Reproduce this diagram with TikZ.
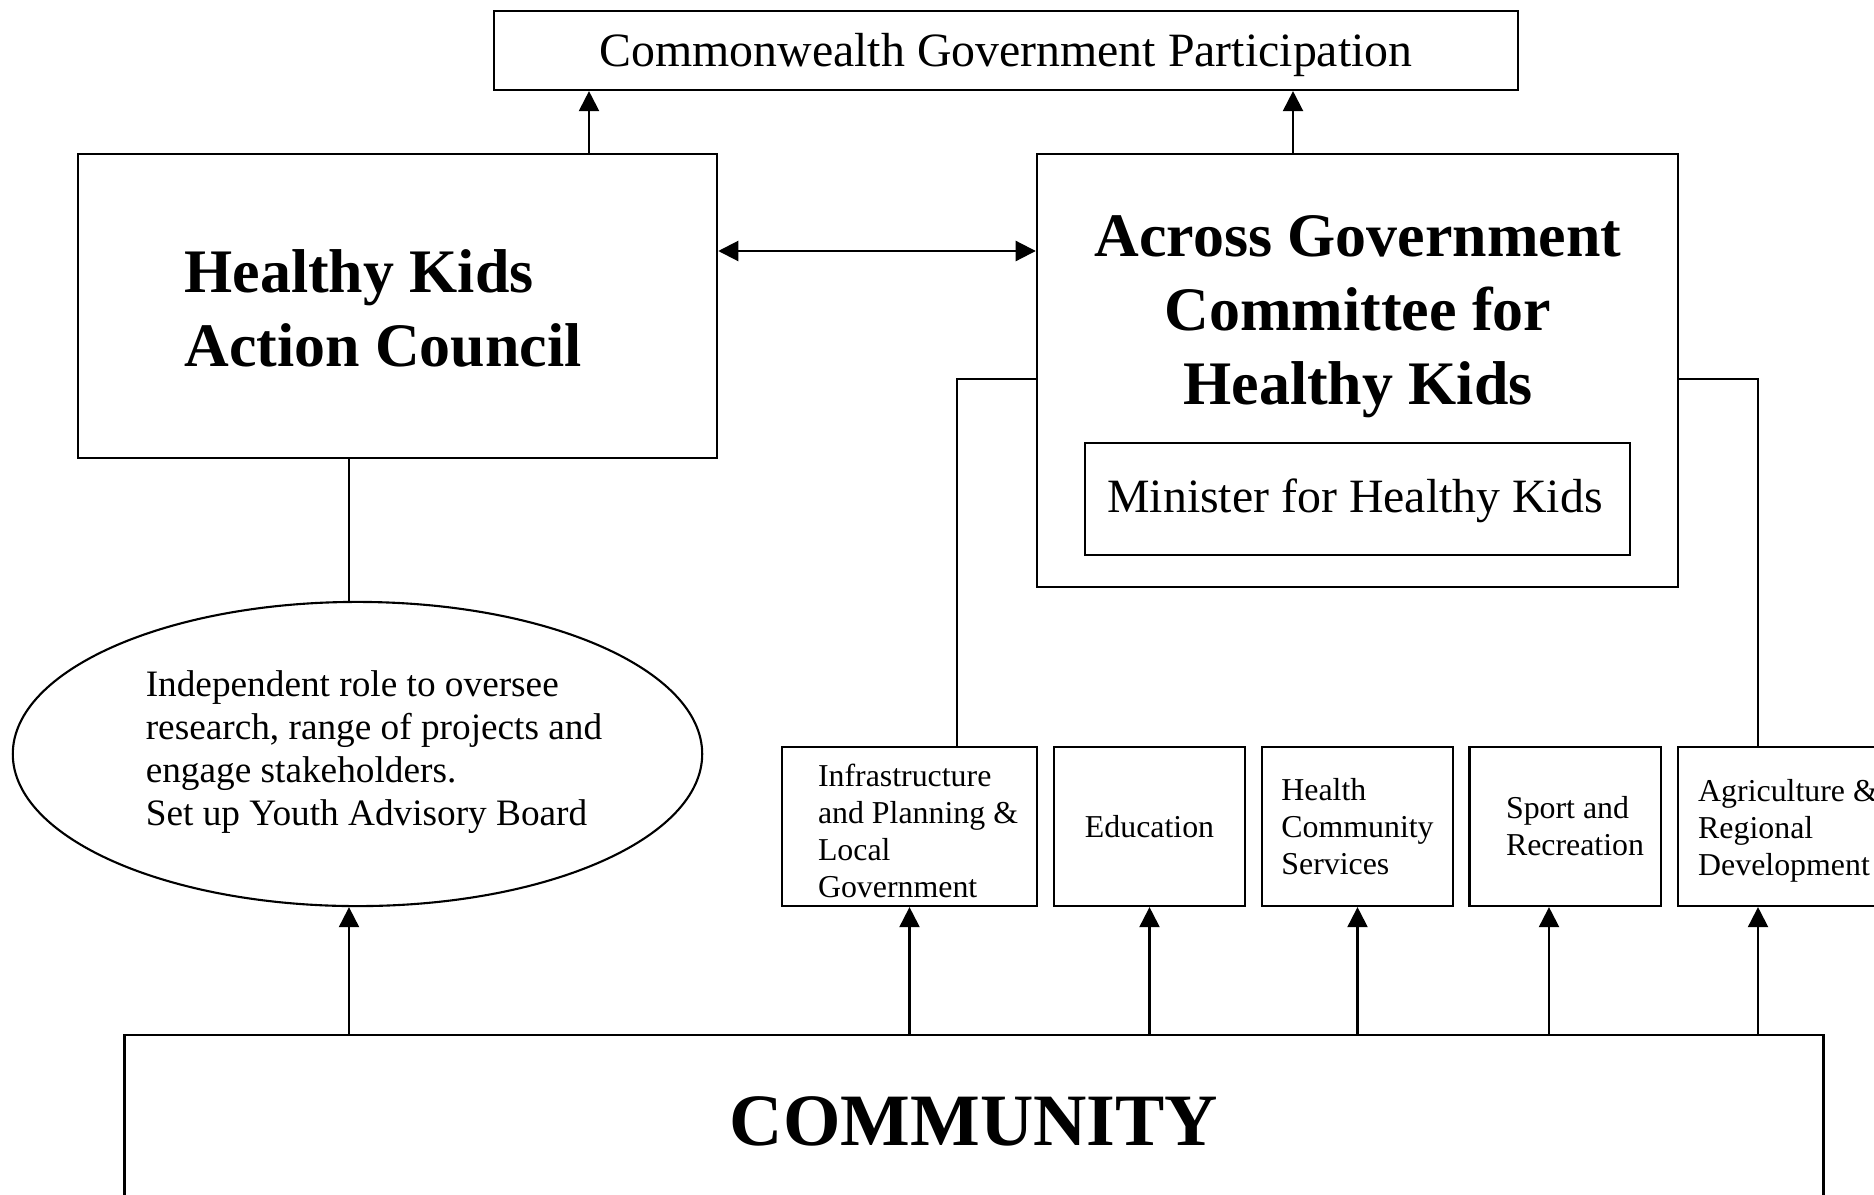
\documentclass[tikz,border=0pt]{standalone}
\usepackage{fontspec}
\setmainfont{Liberation Serif}
\usetikzlibrary{shapes.geometric,arrows.meta}
\tikzset{
  box/.style={draw, line width=0.6pt, inner sep=0pt, align=center},
  title/.style={align=center, font=\fontsize{17.6}{21}\selectfont\bfseries},
  dept/.style={box, minimum width=1.91cm, minimum height=1.59cm, align=left,
    font=\fontsize{9.06}{10.5}\selectfont},
  up/.style={line width=0.6pt, -{Triangle[length=5.7pt,width=5.7pt]}},
  both/.style={line width=0.6pt, {Triangle[length=5.7pt,width=5.7pt]}-{Triangle[length=5.7pt,width=5.7pt]}},
  link/.style={line width=0.6pt},
}
\begin{document}
\begin{tikzpicture}[x=0.01cm,y=-0.01cm]
      \useasboundingbox (0,0) rectangle (1874,1194);
      \clip (0,0) rectangle (1874,1194);
      \node[box, minimum width=10.24cm, minimum height=0.79cm] (cgp) at (1006,50.5) {};
      \node[font=\fontsize{13.6}{15.6}\selectfont] (cgptext) at (1006,55) {Commonwealth Government Participation};
      \node[box, minimum width=6.39cm, minimum height=3.04cm] (hkac) at (397.5,306) {};
      \node[title, align=left] (hkactext) at (383,308) {Healthy Kids\\Action Council};
      \node[box, minimum width=6.41cm, minimum height=4.33cm] (ag) at (1357.5,370.5) {};
      \node[title] (agtext) at (1358,317) {Across Government\\Committee for\\Healthy Kids};
      \node[box, minimum width=5.45cm, minimum height=1.12cm] (minister) at (1357.5,499) {};
      \node[font=\fontsize{13.6}{15.6}\selectfont] (ministertext) at (1355,501) {Minister for Healthy Kids};
      \node[draw, line width=0.6pt, ellipse, inner sep=0pt, minimum width=6.89cm, minimum height=3.04cm] (ell) at (357.5,754) {};
      \node[align=left, font=\fontsize{10.6}{12.2}\selectfont] (elltext) at (374,752)
        {Independent role to oversee\\research, range of projects and\\engage stakeholders.\\Set up Youth Advisory Board};
      \node[dept, minimum width=2.55cm] (infra) at (909.5,826.5) {};
      \node[dept, draw=none] (infratext) at (918,831) {Infrastructure\\and Planning \&\\Local\\Government};
      \node[dept, align=center] (edu) at (1149.5,826.5) {Education};
      \node[dept] (hcs) at (1357.5,826.5) {Health\\Community\\Services};
      \node[dept] (sport) at (1565,826.5) {};
      \node[dept, draw=none] (sporttext) at (1575,826.5) {Sport and\\Recreation};
      \node[dept, minimum width=2.1cm] (agri) at (1783,826.5) {};
      \node[dept, draw=none, minimum width=2.1cm] (agritext) at (1788,831) {Agriculture \&\\Regional\\Development};
      \node[box, minimum width=16.98cm, minimum height=1.72cm,
        font=\fontsize{21}{24}\selectfont\bfseries] (community) at (974,1121) {COMMUNITY};
      \coordinate (x1) at (589,0);
      \coordinate (x2) at (1293,0);
      \coordinate (y1) at (0,251);
      \coordinate (x3) at (349,0);
      \coordinate (y2) at (0,379);
      \coordinate (x4) at (957,0);
      \coordinate (x5) at (1758,0);
      \coordinate (x6) at (1549,0);
      \draw[up] (hkac.north -| x1) -- (cgp.south -| x1);
      \draw[up] (ag.north -| x2) -- (cgp.south -| x2);
      \draw[both] (hkac.east |- y1) -- (ag.west |- y1);
      \draw[link] (hkac.south -| x3) -- (ell.north -| x3);
      \draw[link] (ag.west |- y2) -| (infra.north -| x4);
      \draw[link] (ag.east |- y2) -| (agri.north -| x5);
      \draw[up] (community.north -| x3) -- (ell.south -| x3);
      \foreach \d in {infra,edu,hcs}
        \draw[up] (community.north -| \d.south) -- (\d.south);
      \draw[up] (community.north -| x6) -- (sport.south -| x6);
      \draw[up] (community.north -| x5) -- (agri.south -| x5);
    \end{tikzpicture}
\end{document}
